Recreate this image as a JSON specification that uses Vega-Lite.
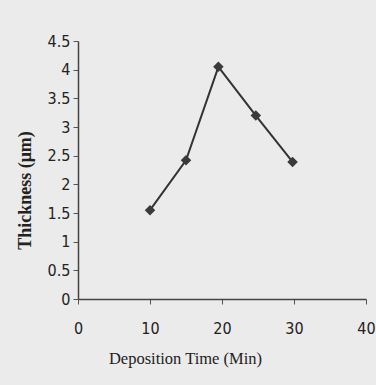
{
  "$schema": "https://vega.github.io/schema/vega-lite/v6.json",
  "autosize": {"type": "none"},
  "padding": {"left": 78, "top": 41, "right": 10, "bottom": 86},
  "width": 288,
  "height": 258,
  "background": "#ebebeb",
  "config": {"view": {"stroke": null}},
  "data": {"values": [
    {"time": 10, "thickness": 1.55},
    {"time": 15, "thickness": 2.42},
    {"time": 19.5, "thickness": 4.05},
    {"time": 24.7, "thickness": 3.2},
    {"time": 29.8, "thickness": 2.39}
  ]},
  "encoding": {
    "x": {"field": "time", "type": "quantitative",
      "scale": {"domain": [0, 40], "nice": false},
      "axis": {"values": [0, 10, 20, 30, 40], "grid": false, "title": "Deposition Time (Min)", "format": "d",
        "domainColor": "#444", "domainWidth": 1.5, "tickColor": "#555", "tickSize": 5,
        "labelFont": "DejaVu Sans Condensed, Liberation Sans", "labelFontSize": 16, "labelColor": "#222",
        "labelPadding": 16, "labelFlush": false,
        "titleFont": "Liberation Serif", "titleFontSize": 16.5, "titleFontWeight": "normal", "titleColor": "#222",
        "titleX": 107, "titleY": 59, "titleAlign": "center", "titleBaseline": "middle"}},
    "y": {"field": "thickness", "type": "quantitative",
      "scale": {"domain": [0, 4.5], "nice": false},
      "axis": {"values": [0, 0.5, 1, 1.5, 2, 2.5, 3, 3.5, 4, 4.5], "grid": false, "title": "Thickness (μm)", "format": "~r",
        "domainColor": "#444", "domainWidth": 1.5, "tickColor": "#555", "tickSize": 5,
        "labelFont": "DejaVu Sans Condensed, Liberation Sans", "labelFontSize": 16, "labelColor": "#222",
        "labelPadding": 3, "labelFlush": false,
        "titleFont": "Liberation Serif", "titleFontSize": 18, "titleFontWeight": "bold", "titleColor": "#222",
        "titleX": -53, "titleY": 149, "titleAngle": -90, "titleAlign": "center", "titleBaseline": "middle"}}
  },
  "layer": [
    {"mark": {"type": "line", "color": "#333", "strokeWidth": 2}},
    {"mark": {"type": "point", "shape": "diamond", "filled": true, "color": "#3a3a3a", "size": 110, "opacity": 1}}
  ]
}
